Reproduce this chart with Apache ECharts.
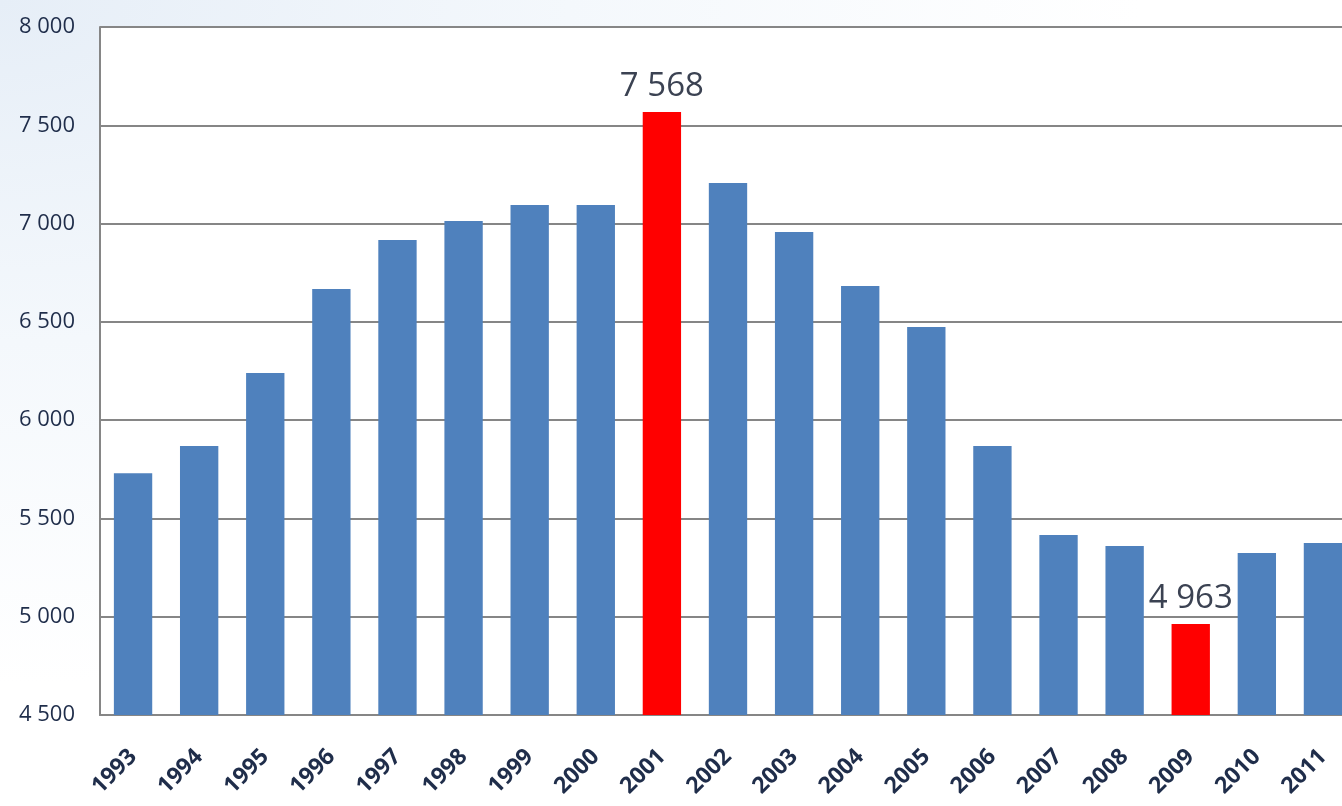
<!DOCTYPE html>
<html>
<head>
<meta charset="utf-8">
<script src="https://cdn.jsdelivr.net/npm/echarts@6/dist/echarts.min.js"></script>
<style>
html,body{margin:0;padding:0;overflow:hidden;}
body{width:1342px;height:806px;background:radial-gradient(ellipse at 0% 0%, #e6eef7 0%, #f4f8fc 30%, #ffffff 60%);}
#chart{width:1380px;height:806px;}
</style>
</head>
<body>
<div id="chart"></div>
<script>
const years = ['1993','1994','1995','1996','1997','1998','1999','2000','2001','2002','2003','2004','2005','2006','2007','2008','2009','2010','2011'];
const values = [5730,5868,6240,6667,6916,7013,7094,7094,7568,7206,6957,6682,6474,5868,5416,5360,4963,5324,5375];
const highlighted = ['2001','2009'];
const yTicks = [4500,5000,5500,6000,6500,7000,7500,8000];

function fmt(v){ return String(v).replace(/\B(?=(\d{3})+(?!\d))/g, ' '); }

const chart = echarts.init(document.getElementById('chart'), null, {renderer:'canvas'});
const data = values.map((v,i)=>{
  const hi = highlighted.includes(years[i]);
  return {
    value: v,
    itemStyle: {color: hi ? '#ff0000' : '#4f81bd'},
    label: {show: hi}
  };
});
chart.setOption({
  backgroundColor: 'transparent',
  animation: false,
  grid: {left: 100, top: 27, width: 1256, height: 688, show: true, backgroundColor: '#ffffff', borderWidth: 0},
  xAxis: {
    type: 'category',
    data: years,
    axisLine: {show: true, lineStyle: {color: '#868686', width: 2}},
    axisTick: {show: false},
    axisLabel: {rotate: 45, color: '#1f2d4a', fontFamily: 'Open Sans', fontWeight: 'bold', fontSize: 23, margin: 38, interval: 0}
  },
  yAxis: {
    type: 'value',
    min: yTicks[0],
    max: yTicks[yTicks.length-1],
    interval: 500,
    axisLine: {show: true, lineStyle: {color: '#868686', width: 2}},
    axisTick: {show: false},
    splitLine: {show: true, lineStyle: {color: '#868686', width: 2}},
    axisLabel: {color: '#1f2d4a', fontFamily: 'Open Sans', fontSize: 22, margin: 25, formatter: v => fmt(v)}
  },
  series: [{
    type: 'bar',
    data: data,
    barWidth: '58%',
    label: {
      position: 'top', distance: 9, color: '#3b4252', fontFamily: 'Open Sans', fontSize: 33,
      formatter: p => fmt(p.value)
    }
  }]
});
</script>
</body>
</html>
